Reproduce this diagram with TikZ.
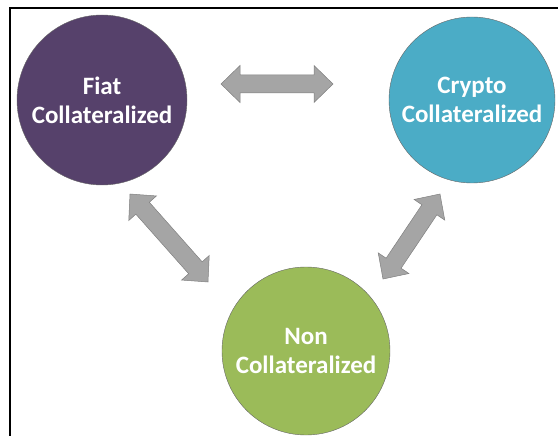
\documentclass[tikz,border=0pt]{standalone}
\usepackage{fontspec}
\setmainfont{Carlito}
\usepackage{tikz}
\usetikzlibrary{positioning, calc}
\definecolor{fiatpurple}{HTML}{56416B}
\definecolor{cryptoblue}{HTML}{4BACC6}
\definecolor{nongreen}{HTML}{9BBB59}
\definecolor{arrowgrey}{HTML}{A5A5A5}
\newcommand{\fatarrow}[2]
{
	\draw[fill=arrowgrey, draw=black!50, line width=0.5pt] (#1)
	-- ($ ($(#1)!19pt!(#2)$)!18.5pt!90:(#2) $)
	-- ($ ($(#1)!19pt!(#2)$)!9pt!90:(#2) $)
	-- ($ ($(#2)!19pt!(#1)$)!9pt!-90:(#1) $)
	-- ($ ($(#2)!19pt!(#1)$)!18.5pt!-90:(#1) $)
	-- (#2)
	-- ($ ($(#2)!19pt!(#1)$)!18.5pt!90:(#1) $)
	-- ($ ($(#2)!19pt!(#1)$)!9pt!90:(#1) $)
	-- ($ ($(#1)!19pt!(#2)$)!9pt!-90:(#2) $)
	-- ($ ($(#1)!19pt!(#2)$)!18.5pt!-90:(#2) $)
	-- cycle
}

\begin{document}
\begin{tikzpicture}[x=1pt, y=-1pt,
every node/.append style={shape=circle, draw=black!60, line width=0.4pt,
	text=white, align=center, inner sep=0pt,
	font=\bfseries\fontsize{25}{29}\selectfont}]

\useasboundingbox (0,0) rectangle (558,436);
\draw[line width=2.2pt] (10,436) -- (10,8) -- (558,8);

\node[fill=fiatpurple, minimum size=170pt] at (102, 100) (Fiat){Fiat\\Collateralized};
\node[fill=cryptoblue, minimum size=166pt] at (472, 100) (Crypto){Crypto\\Collateralized};
\node[fill=nongreen, minimum size=168pt] at (306, 351) (Non){Non\\Collateralized};

\coordinate (FC1) at (221, 84);
\coordinate (FC2) at (333, 84);
\coordinate (FN1) at (130, 194);
\coordinate (FN2) at (208, 282);
\coordinate (CN1) at (440, 194);
\coordinate (CN2) at (383, 279);
\fatarrow{FC1}{FC2};
\fatarrow{FN1}{FN2};
\fatarrow{CN1}{CN2};
\end{tikzpicture}
\end{document}
